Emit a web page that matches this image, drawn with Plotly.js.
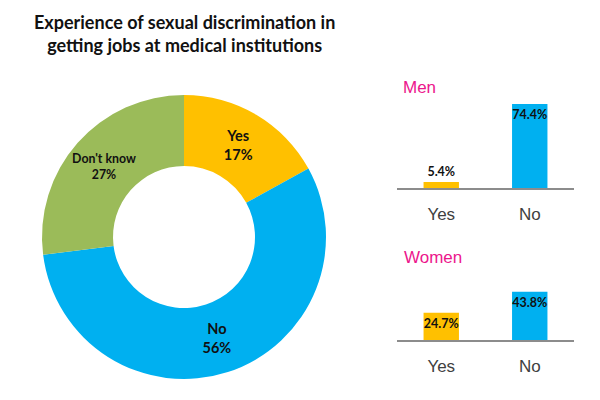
<!DOCTYPE html>
<html>
<head>
<meta charset="utf-8">
<script src="https://cdn.plot.ly/plotly-3.0.1.min.js"></script>
<style>html,body{margin:0;padding:0;background:#fff}#chart{width:600px;height:400px}</style>
</head>
<body>
<div id="chart"></div>
<script>
// Data
const pieLabels = ["Yes", "No", "Don't know"];
const pieValues = [17, 56, 27];
const pieColors = ["#FFC000", "#00B0F0", "#9BBB59"];

const barCategories = ["Yes", "No"];
const menValues = [5.4, 74.4];
const womenValues = [24.7, 43.8];
const barColors = ["#FFC000", "#00B0F0"];

const titleText = "Experience of sexual discrimination in<br>getting jobs at medical institutions";
const menTitle = "Men";
const womenTitle = "Women";

const labelFont = {family: "Lato, 'Liberation Sans', sans-serif", size: 14.5, color: "#111111", weight: "bold"};
const axisFont = {family: "'Liberation Sans', Arial, sans-serif", size: 17, color: "#404040"};
const valueFont = {family: "Lato, sans-serif", size: 12.5, color: "#111111", weight: "bold"};

function fmt(v) { return v.toFixed(1) + "%"; }

const pie = {
  type: "pie",
  labels: pieLabels,
  values: pieValues,
  hole: 0.5,
  sort: false,
  direction: "clockwise",
  rotation: 0,
  marker: {colors: pieColors, line: {width: 0}},
  textinfo: "label+percent",
  textposition: "inside",
  insidetextorientation: "horizontal",
  textfont: labelFont,
  domain: {x: [42/600, 326/600], y: [1 - 379/400, 1 - 95/400]},
  showlegend: false,
  hoverinfo: "label+percent"
};

function barTrace(vals, positions, xa, ya) {
  return {
    type: "bar",
    x: barCategories,
    y: vals,
    text: vals.map(fmt),
    textposition: positions,
    insidetextanchor: "end",
    textangle: 0,
    constraintext: "none",
    cliponaxis: false,
    textfont: valueFont,
    marker: {color: barColors},
    width: 0.4,
    xaxis: xa, yaxis: ya,
    showlegend: false
  };
}

const men = barTrace(menValues, ["outside", "inside"], "x", "y");
const women = barTrace(womenValues, ["inside", "inside"], "x2", "y2");

const xCommon = {
  type: "category",
  range: [-0.5, 1.5],
  showline: true,
  linecolor: "#8C8C8C",
  linewidth: 1.5,
  showgrid: false,
  zeroline: false,
  ticks: "",
  ticklabelstandoff: 10,
  tickfont: axisFont,
  fixedrange: true
};
const yCommon = {
  range: [0, 80],
  showgrid: false,
  zeroline: false,
  showline: false,
  showticklabels: false,
  ticks: "",
  fixedrange: true
};

const layout = {
  width: 600,
  height: 400,
  margin: {l: 0, r: 0, t: 0, b: 0},
  paper_bgcolor: "#ffffff",
  plot_bgcolor: "#ffffff",
  xaxis: Object.assign({}, xCommon, {domain: [397/600, 574/600], anchor: "y"}),
  yaxis: Object.assign({}, yCommon, {domain: [1 - 188/400, 1 - 97.6/400], anchor: "x"}),
  xaxis2: Object.assign({}, xCommon, {domain: [397/600, 574/600], anchor: "y2"}),
  yaxis2: Object.assign({}, yCommon, {domain: [1 - 340/400, 1 - 252/400], anchor: "x2"}),
  annotations: [
    {text: titleText, xref: "paper", yref: "paper", x: 184/600, y: 1 - 33/400, xanchor: "center", yanchor: "middle",
     showarrow: false, align: "center",
     font: {family: "Lato, sans-serif", size: 18, color: "#111111", weight: "bold"}},
    {text: menTitle, xref: "paper", yref: "paper", x: 401/600, y: 1 - 88/400, xanchor: "left", yanchor: "middle", showarrow: false,
     font: {family: "'Liberation Sans', Arial, sans-serif", size: 17, color: "#EC168C"}},
    {text: womenTitle, xref: "paper", yref: "paper", x: 402/600, y: 1 - 257/400, xanchor: "left", yanchor: "middle", showarrow: false,
     font: {family: "'Liberation Sans', Arial, sans-serif", size: 17, color: "#EC168C"}}
  ]
};

Plotly.newPlot("chart", [pie, men, women], layout, {displayModeBar: false, staticPlot: true});
</script>
</body>
</html>
